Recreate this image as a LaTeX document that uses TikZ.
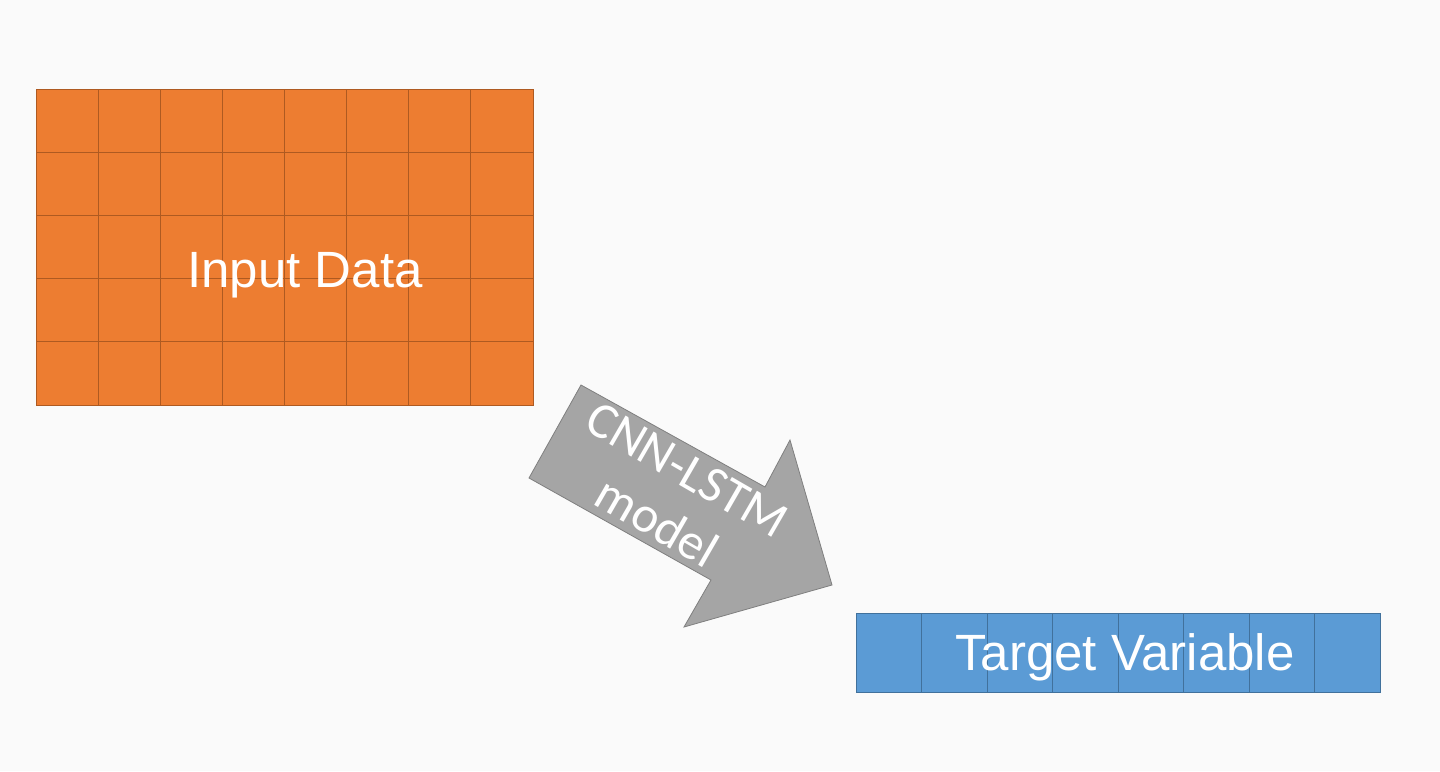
\documentclass[tikz,border=0pt]{standalone}
\usepackage{fontspec}
\usetikzlibrary{calc}
\setmainfont{Liberation Sans}
\newfontfamily\carlito{Carlito}
\definecolor{bgc}{HTML}{FAFAFA}
\definecolor{orangefill}{HTML}{ED7D31}
\definecolor{orangeline}{HTML}{AE5A21}
\definecolor{bluefill}{HTML}{5B9BD5}
\definecolor{blueline}{HTML}{41719C}
\definecolor{greyfill}{HTML}{A5A5A5}
\definecolor{greyline}{HTML}{7F7F7F}
\begin{document}
\begin{tikzpicture}[x=1pt,y=-1pt,
  gridbox/.style={draw, line width=0.9pt, minimum width=#1, inner sep=0pt, outer sep=0pt},
  bigtext/.style={text=white, font=\fontsize{51}{60}\selectfont, inner sep=0pt, anchor=base},
  arrowtext/.style={text=white, font=\carlito\fontsize{51}{60}\selectfont, align=center, inner sep=0pt}]
\fill[bgc] (0,0) rectangle (1440,771);
\useasboundingbox (0,0) rectangle (1440,771);
% input grid
\node[gridbox=497pt, minimum height=316pt, fill=orangefill, draw=orangeline] (input) at (284.5,247) {};
\foreach \i in {1,...,7}
  \draw[orangeline, line width=0.8pt] ($(input.north west)!\i/8!(input.north east)$) -- ($(input.south west)!\i/8!(input.south east)$);
\foreach \j in {1,...,4}
  \draw[orangeline, line width=0.8pt] ($(input.north west)!\j/5!(input.south west)$) -- ($(input.north east)!\j/5!(input.south east)$);
\node[bigtext] (inputlabel) at (305,287) {Input Data};
% target
\node[gridbox=524pt, minimum height=79pt, fill=bluefill, draw=blueline] (target) at (1118,652.5) {};
\foreach \i in {1,...,7}
  \draw[blueline, line width=0.8pt] ($(target.north west)!\i/8!(target.north east)$) -- ($(target.south west)!\i/8!(target.south east)$);
\node[bigtext] (targetlabel) at (1125,670) {Target Variable};
% arrow
\draw[fill=greyfill, draw=greyline, line width=0.8pt, line join=miter]
  (581,385) -- (765,487) -- (790,440) -- (832,585) -- (684,627) -- (711,580) -- (529,478) -- cycle;
\node[arrowtext, rotate=-30] (model) at (672,496) {CNN-LSTM\\model};
\end{tikzpicture}
\end{document}
